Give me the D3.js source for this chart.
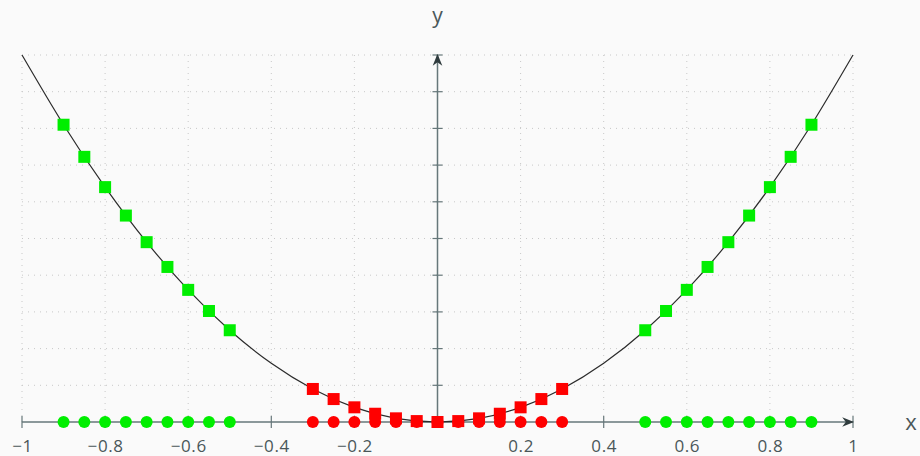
<!DOCTYPE html>
<html><head><meta charset="utf-8">
<script src="https://cdn.jsdelivr.net/npm/d3@7"></script>
<style>html,body{margin:0;padding:0;background:#fafafa;}svg{display:block;}</style>
</head><body>
<svg id="c" width="920" height="456"></svg>
<script>
// Data
const xTicks = [-1, -0.8, -0.6, -0.4, -0.2, 0.2, 0.4, 0.6, 0.8, 1];
const xTickLabels = ["\u22121", "\u22120.8", "\u22120.6", "\u22120.4", "\u22120.2", "0.2", "0.4", "0.6", "0.8", "1"];
const xGrid = [-1, -0.8, -0.6, -0.4, -0.2, 0, 0.2, 0.4, 0.6, 0.8, 1];
const yTicks = [0.1, 0.2, 0.3, 0.4, 0.5, 0.6, 0.7, 0.8, 0.9, 1];
const curveX = [-1, -0.9, -0.8, -0.7, -0.6, -0.5, -0.4, -0.3, -0.2, -0.1, 0, 0.1, 0.2, 0.3, 0.4, 0.5, 0.6, 0.7, 0.8, 0.9, 1];
const curveY = [1, 0.81, 0.64, 0.49, 0.36, 0.25, 0.16, 0.09, 0.04, 0.01, 0, 0.01, 0.04, 0.09, 0.16, 0.25, 0.36, 0.49, 0.64, 0.81, 1];
const greenX = [-0.9, -0.85, -0.8, -0.75, -0.7, -0.65, -0.6, -0.55, -0.5, 0.5, 0.55, 0.6, 0.65, 0.7, 0.75, 0.8, 0.85, 0.9];
const greenY = [0.81, 0.7225, 0.64, 0.5625, 0.49, 0.4225, 0.36, 0.3025, 0.25, 0.25, 0.3025, 0.36, 0.4225, 0.49, 0.5625, 0.64, 0.7225, 0.81];
const redX = [-0.3, -0.25, -0.2, -0.15, -0.1, -0.05, 0, 0.05, 0.1, 0.15, 0.2, 0.25, 0.3];
const redY = [0.09, 0.0625, 0.04, 0.0225, 0.01, 0.0025, 0, 0.0025, 0.01, 0.0225, 0.04, 0.0625, 0.09];

const svg = d3.select("#c");
const x = d3.scaleLinear().domain([-1, 1]).range([22, 853]);
const y = d3.scaleLinear().domain([0, 1]).range([422, 55]);
const axisCol = "#66777a";
const textCol = "#4a5759";
const font = "'Open Sans', 'Noto Sans', sans-serif";

// grid
const g = svg.append("g");
g.selectAll("line.v").data(xGrid).enter().append("line")
  .attr("x1", d => x(d)).attr("x2", d => x(d)).attr("y1", y(1)).attr("y2", y(0))
  .attr("stroke", "#c8c8c8").attr("stroke-width", 1).attr("stroke-dasharray", "1,5");
g.selectAll("line.h").data(yTicks).enter().append("line")
  .attr("x1", x(-1)).attr("x2", x(1)).attr("y1", d => y(d)).attr("y2", d => y(d))
  .attr("stroke", "#c8c8c8").attr("stroke-width", 1).attr("stroke-dasharray", "1,5");

// arrow marker
const defs = svg.append("defs");
defs.append("marker").attr("id", "arr").attr("viewBox", "0 0 10 10").attr("refX", 9).attr("refY", 5)
  .attr("markerWidth", 8).attr("markerHeight", 8).attr("orient", "auto")
  .append("path").attr("d", "M0,1 L10,5 L0,9 L3,5 Z").attr("fill", "#2f3b3d");

// x axis
const xAxis = d3.axisBottom(x).tickValues(xTicks).tickSize(0).tickFormat((d, i) => xTickLabels[i]);
const xa = svg.append("g").attr("transform", `translate(0,${y(0)})`).call(xAxis);
xa.select(".domain").remove();
xa.selectAll("text").attr("dy", 0).attr("y", 30).attr("fill", textCol)
  .style("font-family", font).style("font-size", "17px").style("letter-spacing", "0.6px");
svg.append("g").selectAll("line").data(xTicks).enter().append("line")
  .attr("x1", d => x(d)).attr("x2", d => x(d)).attr("y1", y(0) - 6).attr("y2", y(0) + 6)
  .attr("stroke", axisCol).attr("stroke-width", 1.2);
svg.append("line").attr("x1", x(-1)).attr("x2", x(1)).attr("y1", y(0)).attr("y2", y(0))
  .attr("stroke", axisCol).attr("stroke-width", 1.5).attr("marker-end", "url(#arr)");

// y axis
svg.append("g").selectAll("line").data(yTicks).enter().append("line")
  .attr("x1", x(0) - 5).attr("x2", x(0) + 5).attr("y1", d => y(d)).attr("y2", d => y(d))
  .attr("stroke", axisCol).attr("stroke-width", 1.2);
svg.append("line").attr("x1", x(0)).attr("x2", x(0)).attr("y1", y(0)).attr("y2", y(1))
  .attr("stroke", axisCol).attr("stroke-width", 1.5).attr("marker-end", "url(#arr)");

// axis labels
svg.append("text").attr("x", 911).attr("y", 430).attr("text-anchor", "middle").attr("fill", textCol)
  .style("font-family", font).style("font-size", "22px").text("x");
svg.append("text").attr("x", x(0)).attr("y", 23).attr("text-anchor", "middle").attr("fill", textCol)
  .style("font-family", font).style("font-size", "21px").text("y");

// curve
const line = d3.line().x(d => x(d[0])).y(d => y(d[1])).curve(d3.curveNatural);
svg.append("path").datum(curveX.map((v, i) => [v, curveY[i]])).attr("d", line)
  .attr("fill", "none").attr("stroke", "#2b2b2b").attr("stroke-width", 1.2);

// circles on the x axis
const r = 6, s = 12;
svg.append("g").selectAll("circle").data(greenX).enter().append("circle")
  .attr("cx", d => x(d)).attr("cy", y(0)).attr("r", r).attr("fill", "#00ee00");
svg.append("g").selectAll("circle").data(redX).enter().append("circle")
  .attr("cx", d => x(d)).attr("cy", y(0)).attr("r", r).attr("fill", "#ff0000");

// squares on the curve
svg.append("g").selectAll("rect").data(greenX).enter().append("rect")
  .attr("x", d => x(d) - s / 2).attr("y", (d, i) => y(greenY[i]) - s / 2)
  .attr("width", s).attr("height", s).attr("fill", "#00ee00");
svg.append("g").selectAll("rect").data(redX).enter().append("rect")
  .attr("x", d => x(d) - s / 2).attr("y", (d, i) => y(redY[i]) - s / 2)
  .attr("width", s).attr("height", s).attr("fill", "#ff0000");
</script>
</body></html>
